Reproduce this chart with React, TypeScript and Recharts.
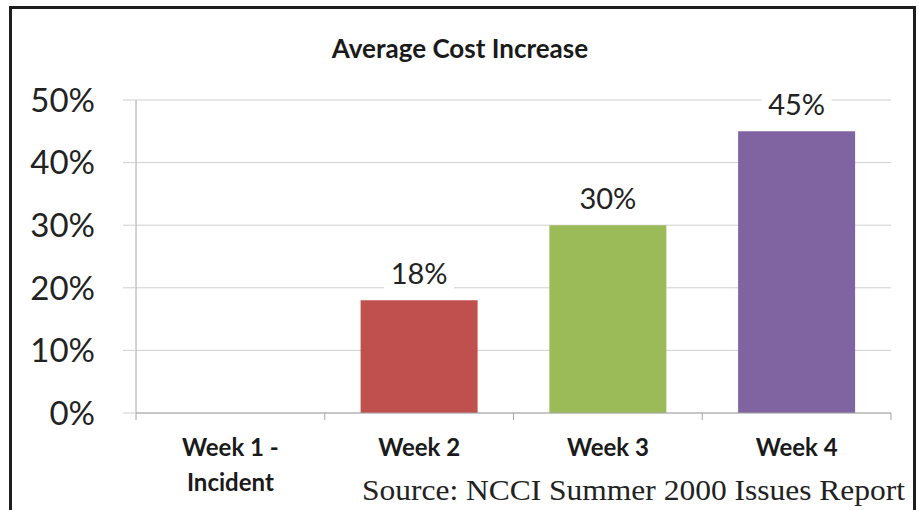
import React from "react";
import { BarChart, Bar, XAxis, YAxis, CartesianGrid, Cell, LabelList } from "recharts";

const categories = ["Week 1 -\nIncident", "Week 2", "Week 3", "Week 4"];
const costIncrease: (number | null)[] = [null, 18, 30, 45];
const barColors = ["#4f81bd", "#c0504d", "#9bbb59", "#8064a2"];
const yTicks = [0, 10, 20, 30, 40, 50];

const chartData = categories.map((week, i) => ({ week, value: costIncrease[i] }));

const FONT = "Lato, 'Open Sans', sans-serif";
const AXIS_GRAY = "#a6a6a6";
const GRID_GRAY = "#cfcfcf";

function WeekTick(props: any) {
  const { x, y, payload, index } = props;
  const off = payload.offset ?? 0;
  const lines = String(payload.value).split("\n");
  const isLast = index === categories.length - 1;
  return (
    <g>
      <line x1={x - off} x2={x - off} y1={y} y2={y + 7} stroke={AXIS_GRAY} />
      {isLast && <line x1={x + off} x2={x + off} y1={y} y2={y + 7} stroke={AXIS_GRAY} />}
      {lines.map((ln, i) => (
        <text
          key={i}
          x={x}
          y={y + 43 + i * 35}
          textAnchor="middle"
          fontFamily={FONT}
          fontWeight={700}
          fontSize={24}
          fill="#1a1a1a"
        >
          {ln}
        </text>
      ))}
    </g>
  );
}

function ValueLabel(props: any) {
  const { x, y, width, value } = props;
  if (value == null) return null;
  const cx = x + width / 2;
  return (
    <g>
      <rect x={cx - 35} y={y - 40} width={70} height={30} fill="#fff" />
      <text x={cx} y={y - 16} textAnchor="middle" fontFamily={FONT} fontSize={29} fill="#222">
        {`${value}%`}
      </text>
    </g>
  );
}

export default function App() {
  return (
    <div style={{ position: "absolute", left: 0, top: 0, width: 919, height: 510, overflow: "hidden", background: "#fff" }}>
      <div
        style={{
          position: "absolute",
          left: 9,
          top: 6,
          width: 907,
          height: 600,
          boxSizing: "border-box",
          border: "3px solid #1e1e1e",
        }}
      />
      <div style={{ position: "absolute", left: 0, top: 0 }}>
        <BarChart
          width={919}
          height={510}
          data={chartData}
          margin={{ top: 100, right: 28, bottom: 37, left: 0 }}
          barCategoryGap="19%"
        >
          <CartesianGrid horizontal vertical={false} stroke={GRID_GRAY} />
          <XAxis
            dataKey="week"
            height={60}
            stroke={AXIS_GRAY}
            tickLine={false}
            tickSize={0}
            tickMargin={0}
            interval={0}
            tick={<WeekTick />}
          />
          <YAxis
            width={136}
            domain={[0, 50]}
            ticks={yTicks}
            tickFormatter={(v) => `${v}%`}
            stroke={AXIS_GRAY}
            tickLine={{ stroke: GRID_GRAY }}
            tickSize={13}
            tickMargin={28}
            tick={{ fontFamily: FONT, fontSize: 33, fill: "#222" }}
          />
          <Bar dataKey="value" isAnimationActive={false}>
            {chartData.map((d, i) => (
              <Cell key={d.week} fill={barColors[i]} />
            ))}
            <LabelList dataKey="value" content={<ValueLabel />} />
          </Bar>
        </BarChart>
      </div>
      <svg width={919} height={510} style={{ position: "absolute", left: 0, top: 0, pointerEvents: "none" }}>
        <text x={460} y={58} textAnchor="middle" fontFamily={FONT} fontWeight={700} fontSize={26} fill="#1a1a1a">
          Average Cost Increase
        </text>
        <text
          x={905}
          y={500}
          textAnchor="end"
          fontFamily="'Liberation Serif', serif"
          fontSize={29}
          textLength={543}
          lengthAdjust="spacingAndGlyphs"
          fill="#222"
        >
          Source: NCCI Summer 2000 Issues Report
        </text>
      </svg>
    </div>
  );
}
